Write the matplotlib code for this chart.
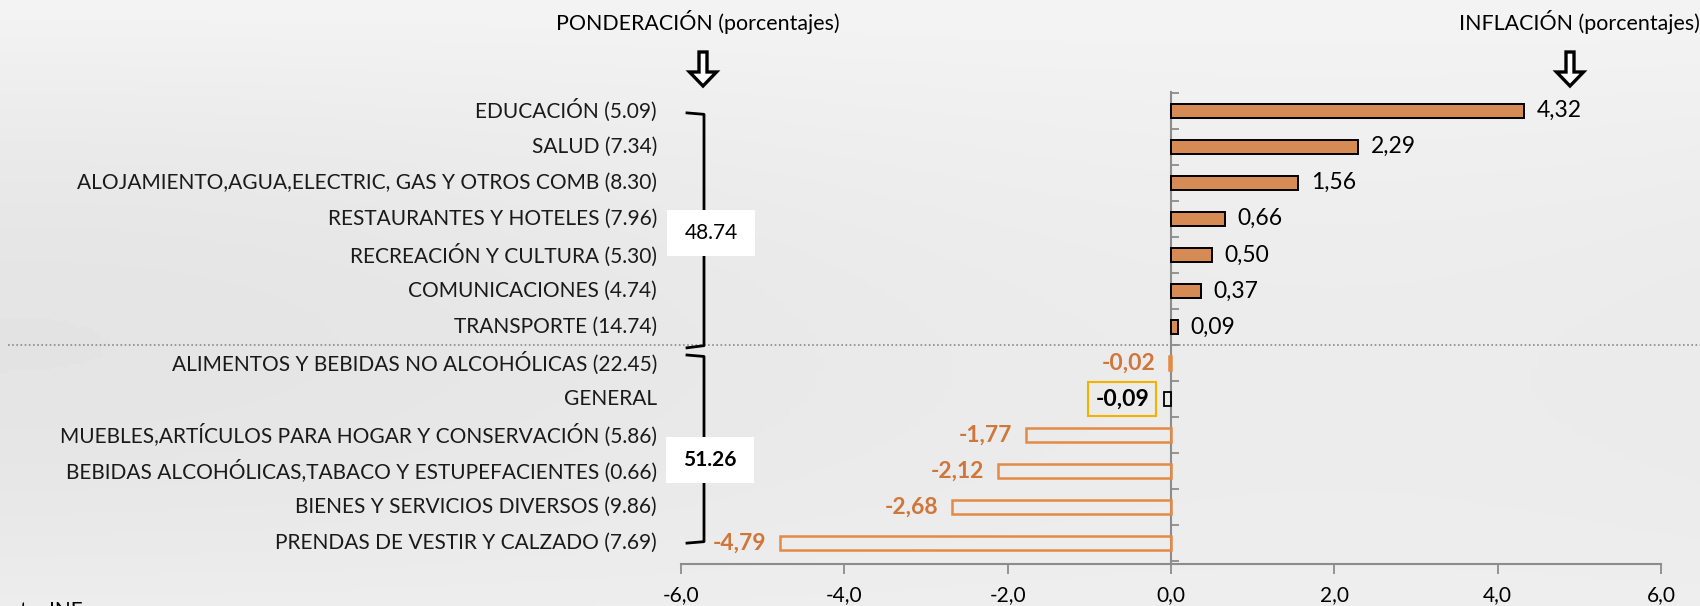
import matplotlib
matplotlib.use("Agg")
import matplotlib.pyplot as plt
import matplotlib.transforms as mtransforms
from matplotlib.patches import Rectangle, FancyArrow
from matplotlib.lines import Line2D
import numpy as np

categories = [
    "EDUCACIÓN (5.09)",
    "SALUD (7.34)",
    "ALOJAMIENTO,AGUA,ELECTRIC, GAS Y OTROS COMB (8.30)",
    "RESTAURANTES Y HOTELES (7.96)",
    "RECREACIÓN Y CULTURA (5.30)",
    "COMUNICACIONES (4.74)",
    "TRANSPORTE (14.74)",
    "ALIMENTOS Y BEBIDAS NO ALCOHÓLICAS (22.45)",
    "GENERAL",
    "MUEBLES,ARTÍCULOS PARA HOGAR Y CONSERVACIÓN (5.86)",
    "BEBIDAS ALCOHÓLICAS,TABACO Y ESTUPEFACIENTES (0.66)",
    "BIENES Y SERVICIOS DIVERSOS (9.86)",
    "PRENDAS DE VESTIR Y CALZADO (7.69)",
]
values = [4.32, 2.29, 1.56, 0.66, 0.50, 0.37, 0.09, -0.02, -0.09, -1.77, -2.12, -2.68, -4.79]
group_labels = ["48.74", "51.26"]
xticks = [-6, -4, -2, 0, 2, 4, 6]

FONT = "Lato"
plt.rcParams['font.family'] = [FONT, 'DejaVu Sans']

W, H = 1700, 606
fig = plt.figure(figsize=(W / 100, H / 100), dpi=100)
fig.patch.set_facecolor("#E8E8E5")

# subtle background gradient
bg = fig.add_axes([0, 0, 1, 1], zorder=-10)
gy = np.linspace(0, 1, 200)[:, None]
gx = np.linspace(0, 1, 200)[None, :]
grad = 0.935 - 0.05 * np.sin(gy * 3.0) * (0.7 + 0.3 * np.cos(gx * 4)) + 0.02 * (1 - gy)
bg.imshow(grad, cmap="gray", vmin=0, vmax=1, aspect="auto", extent=[0, 1, 0, 1])
bg.axis("off")

def fx(px):
    return px / W

def fy(py):
    return 1 - py / H

ax = fig.add_axes([fx(681), fy(564), fx(1661) - fx(681), fy(92) - fy(564)])
ax.set_facecolor("none")

pos_fill = "#D68B55"
neg_edge = "#E38A45"
lab_col = "#D0763A"
FS = 15
VFS = 16.5

for i, (cat, v) in enumerate(zip(categories, values)):
    if cat == "GENERAL":
        ax.barh(i, v, height=0.4, color="none", edgecolor="black", linewidth=1.3, zorder=3)
    elif v >= 0:
        ax.barh(i, v, height=0.4, color=pos_fill, edgecolor="black", linewidth=1.4, zorder=3)
    else:
        ax.barh(i, v, height=0.4, color="none", edgecolor=neg_edge, linewidth=1.8, zorder=3)

# value labels
for i, (cat, v) in enumerate(zip(categories, values)):
    s = f"{v:.2f}".replace(".", ",")
    if cat == "GENERAL":
        t = mtransforms.offset_copy(ax.transData, fig=fig, x=-10.5, y=0, units="points")
        ax.text(v, i, s, transform=t, ha="right", va="center", fontsize=VFS,
                fontweight="bold", color="black",
                bbox=dict(boxstyle="square,pad=0.3", facecolor="none",
                          edgecolor="#F2B300", linewidth=1.5))
    elif v >= 0:
        t = mtransforms.offset_copy(ax.transData, fig=fig, x=9, y=0, units="points")
        ax.text(v, i, s, transform=t, ha="left", va="center", fontsize=VFS, color="black")
    else:
        t = mtransforms.offset_copy(ax.transData, fig=fig, x=-10, y=0, units="points")
        ax.text(v, i, s, transform=t, ha="right", va="center", fontsize=VFS,
                fontweight="bold", color=lab_col)

ax.set_xlim(-6, 6)
ax.set_ylim(len(categories) - 0.42, -0.52)
ax.set_xticks(xticks)
ax.set_xticklabels([f"{t:.1f}".replace(".", ",") for t in xticks], fontsize=FS)
ax.set_yticks(np.arange(-0.5, len(categories) + 0.5, 1.0))
ax.set_yticklabels([])
ax.tick_params(axis="y", direction="in", length=6, color="#8C8C8C", width=1.3)
ax.tick_params(axis="x", direction="out", length=7, color="#8C8C8C", width=1.3, pad=8)
for s in ["top", "right"]:
    ax.spines[s].set_visible(False)
ax.spines["left"].set_position(("data", 0))
ax.spines["left"].set_color("#8C8C8C")
ax.spines["left"].set_linewidth(1.5)
ax.spines["bottom"].set_color("#8C8C8C")
ax.spines["bottom"].set_linewidth(1.5)

# category labels
bt = mtransforms.blended_transform_factory(fig.transFigure, ax.transData)
for i, cat in enumerate(categories):
    ax.text(fx(657), i, cat, transform=bt, ha="right", va="center", fontsize=FS,
            color="#1a1a1a", clip_on=False)

# dotted separator
fig.add_artist(Line2D([fx(8), 1.0], [6.5, 6.5], transform=bt, color="#8A8A8A",
                      linestyle=(0, (1, 1.5)), linewidth=1.2))

# brackets
x_l, x_r = fx(687), fx(704)
fig.add_artist(Line2D([x_l, x_r, x_r, x_l], [0.06, 0.1, 6.52, 6.58], transform=bt,
                      color="black", linewidth=2, zorder=2))
fig.add_artist(Line2D([x_l, x_r, x_r, x_l], [6.78, 6.82, 11.96, 12.0], transform=bt,
                      color="black", linewidth=2, zorder=2))

# group boxes
for (cx, cy, lab, wt) in [(711, 233, group_labels[0], "normal"), (710, 460, group_labels[1], "bold")]:
    fig.add_artist(Rectangle((fx(cx - 44), fy(cy + 23)), fx(88), 46 / H,
                             transform=fig.transFigure, facecolor="white", edgecolor="none",
                             zorder=5))
    fig.text(fx(cx), fy(cy), lab, ha="center", va="center", fontsize=FS, fontweight=wt,
             color="black", zorder=6)

# headers
fig.text(fx(698), fy(22), "PONDERACIÓN (porcentajes)", ha="center", va="center",
         fontsize=15.4, color="black")
fig.text(fx(1579), fy(22), "INFLACIÓN (porcentajes)", ha="center", va="center",
         fontsize=15.4, color="black")
for cx in [703, 1570]:
    fig.add_artist(FancyArrow(fx(cx), fy(52), 0, fy(86) - fy(52), width=8 / W,
                              head_width=27 / W, head_length=14 / H,
                              length_includes_head=True, transform=fig.transFigure,
                              facecolor="white", edgecolor="black", linewidth=2.4))

fig.text(fx(-26), fy(601), "Fuente: INE", ha="left", va="top", fontsize=FS, color="black")

fig.savefig("out.png", dpi=100, facecolor=fig.get_facecolor())
